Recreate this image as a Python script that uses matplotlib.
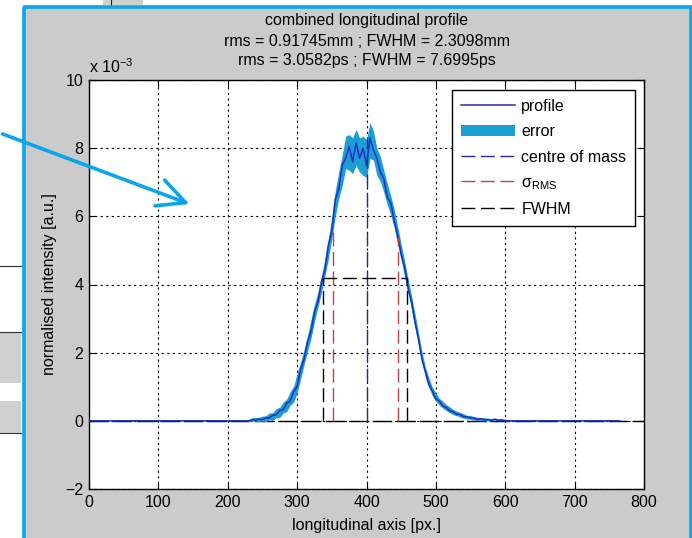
import numpy as np
import matplotlib
matplotlib.use('Agg')
import matplotlib.pyplot as plt
from matplotlib.patches import Rectangle, FancyArrowPatch
from matplotlib.lines import Line2D

plt.rcParams['font.family'] = ['Liberation Sans', 'DejaVu Sans']
plt.rcParams['mathtext.fontset'] = 'custom'
plt.rcParams['mathtext.rm'] = 'Liberation Sans'
plt.rcParams['mathtext.it'] = 'Liberation Sans:italic'

# profile values (units of 1e-3), every 5 px from 230 to 610
pos = np.arange(230, 611, 5)
profile = [0.00, 0.03, 0.02, 0.05, 0.04, 0.08, 0.09, 0.16, 0.18, 0.30,
           0.33, 0.52, 0.58, 0.86, 1.00, 1.52, 1.80, 2.32, 2.62, 3.20,
           3.48, 4.08, 4.42, 5.15, 5.55, 6.50, 6.80, 7.50, 7.70, 8.05,
           7.60, 8.15, 7.70, 8.00, 7.50, 8.30, 7.95, 7.70, 7.30, 7.10,
           6.55, 6.40, 5.85, 5.45, 4.88, 4.50, 3.88, 3.50, 2.88, 2.40,
           1.80, 1.44, 1.06, 0.88, 0.64, 0.58, 0.43, 0.40, 0.29, 0.27,
           0.19, 0.19, 0.12, 0.12, 0.08, 0.08, 0.04, 0.06, 0.03, 0.04,
           0.02, 0.05, 0.02, 0.03, 0.01, 0.00, 0.00]
err_hi = [0.03, 0.06, 0.08, 0.05, 0.10, 0.07, 0.14, 0.08, 0.18, 0.10,
          0.22, 0.12, 0.28, 0.15, 0.40, 0.20, 0.30, 0.18, 0.35, 0.22,
          0.30, 0.15, 0.35, 0.20, 0.45, 0.25, 0.50, 0.30, 0.65, 0.35,
          0.70, 0.40, 0.60, 0.35, 0.75, 0.45, 0.55, 0.30, 0.45, 0.25,
          0.40, 0.20, 0.35, 0.25, 0.30, 0.18, 0.28, 0.15, 0.25, 0.18,
          0.22, 0.12, 0.20, 0.10, 0.18, 0.08, 0.15, 0.07, 0.12, 0.06,
          0.10, 0.05, 0.09, 0.04, 0.08, 0.04, 0.07, 0.03, 0.06, 0.03,
          0.05, 0.02, 0.04, 0.02, 0.02, 0.01, 0.01]
err_lo = [0.02, 0.04, 0.03, 0.07, 0.05, 0.10, 0.06, 0.15, 0.08, 0.20,
          0.10, 0.25, 0.12, 0.32, 0.18, 0.30, 0.16, 0.28, 0.20, 0.30,
          0.14, 0.32, 0.18, 0.40, 0.22, 0.50, 0.28, 0.60, 0.30, 0.70,
          0.35, 0.65, 0.40, 0.80, 0.35, 0.60, 0.30, 0.50, 0.28, 0.40,
          0.22, 0.35, 0.20, 0.30, 0.16, 0.28, 0.14, 0.25, 0.15, 0.20,
          0.10, 0.18, 0.09, 0.15, 0.07, 0.12, 0.06, 0.10, 0.05, 0.09,
          0.04, 0.08, 0.04, 0.07, 0.03, 0.06, 0.03, 0.05, 0.03, 0.04,
          0.02, 0.03, 0.02, 0.02, 0.01, 0.01, 0.00]
x_start, x_end = 0, 765

com = 400
com_height = 8.3
sigma_lo, sigma_hi = 351, 445
sigma_heights = [5.6, 5.4]
fwhm_lo, fwhm_hi = 338, 458
half_max = 4.2

title_lines = ['combined longitudinal profile',
               'rms = 0.91745mm ; FWHM = 2.3098mm',
               'rms = 3.0582ps ; FWHM = 7.6995ps']

W, H = 692, 538
def fx(px):
    return px / W
def fy(py):
    return 1 - py / H

blue_frame = '#0aa5ec'
band_col = '#1b9fd2'
line_col = '#1a2fc8'
com_col = '#2a2a96'
red_col = '#c04444'
FS = 11.5

fig = plt.figure(figsize=(6.92, 5.38), dpi=100, facecolor='white')

# grey figure panel
fig.add_artist(Rectangle((fx(23), 0), 1 - fx(23), fy(7), transform=fig.transFigure,
                         facecolor='#cbcbcb', edgecolor='none', zorder=-10))

# window decorations outside the figure frame
fig.add_artist(Rectangle((0, fy(383)), fx(21), fy(332) - fy(383), transform=fig.transFigure,
                         facecolor='#cfcfcf', edgecolor='none', zorder=-5))
fig.add_artist(Rectangle((0, fy(433)), fx(21), fy(401) - fy(433), transform=fig.transFigure,
                         facecolor='#cfcfcf', edgecolor='none', zorder=-5))
for yy in [266, 332, 433]:
    fig.add_artist(Line2D([0, fx(21)], [fy(yy), fy(yy)], transform=fig.transFigure,
                          color='#303030', lw=0.8, zorder=-4))
fig.add_artist(Rectangle((fx(103), fy(5)), fx(40), fy(0) - fy(5), transform=fig.transFigure,
                         facecolor='#cfcfcf', edgecolor='none', zorder=-5))
fig.add_artist(Line2D([fx(111), fx(111)], [fy(0), fy(5)], transform=fig.transFigure,
                      color='#202020', lw=0.8, zorder=-4))

ax = fig.add_axes([fx(89), fy(489), fx(644) - fx(89), fy(80) - fy(489)])
ax.set_facecolor('white')

xs = np.concatenate([[x_start], pos, [x_end]])
ys = np.concatenate([[0], profile, [0]])
prof = np.array(profile)

ax.plot([0, 800], [0, 0], color='k', lw=1.0, dashes=(14, 3), zorder=2)
ax.fill_between(pos, prof - np.array(err_lo), prof + np.array(err_hi), color=band_col, lw=0,
                zorder=3, label='error')
ax.plot(xs, ys, color=line_col, lw=1.1, zorder=4, label='profile')
ax.plot([com, com], [0, com_height], color=com_col, lw=1.0, dashes=(10, 4), zorder=5,
        label='centre of mass')
ax.plot([sigma_lo, sigma_lo], [0, sigma_heights[0]], color=red_col, lw=1.0, dashes=(10, 4), zorder=5,
        label='σ$_{\\mathrm{RMS}}$')
ax.plot([sigma_hi, sigma_hi], [0, sigma_heights[1]], color=red_col, lw=1.0, dashes=(10, 4), zorder=5)
ax.plot([fwhm_lo, fwhm_lo], [0, half_max], color='k', lw=1.0, dashes=(10, 4), zorder=5, label='FWHM')
ax.plot([fwhm_hi, fwhm_hi], [0, half_max], color='k', lw=1.0, dashes=(10, 4), zorder=5)
ax.plot([fwhm_lo, fwhm_hi], [half_max, half_max], color='k', lw=1.0, dashes=(10, 4), zorder=5)

ax.set_xlim(0, 800)
ax.set_ylim(-2, 10)
ax.set_xticks(np.arange(0, 801, 100))
ax.set_yticks(np.arange(-2, 11, 2))
ax.grid(True, color='k', linestyle=(0, (2, 3)), lw=0.8, zorder=1)
ax.set_axisbelow(True)
ax.tick_params(direction='in', top=True, right=True, length=5, width=0.8,
               labelsize=FS, colors='k', pad=4)
for s in ax.spines.values():
    s.set_linewidth(1.0)
    s.set_color('k')

ax.text(0, 1.01, r'x 10$^{-3}$', transform=ax.transAxes, ha='left', va='bottom', fontsize=FS)
ax.set_xlabel('longitudinal axis [px.]', fontsize=FS, labelpad=6)
ax.set_ylabel('normalised intensity [a.u.]', fontsize=FS, labelpad=6)

for line, yy in zip(title_lines, [20, 41, 61]):
    fig.text(fx(366.5), fy(yy), line, ha='center', va='center', fontsize=FS)

h, l = ax.get_legend_handles_labels()
order = [l.index(k) for k in ['profile', 'error', 'centre of mass', 'σ$_{\\mathrm{RMS}}$', 'FWHM']]
leg = ax.legend([h[i] for i in order], [l[i] for i in order], loc='upper right',
                bbox_to_anchor=(0.984, 0.9756), fontsize=FS, frameon=True, fancybox=False,
                edgecolor='k', framealpha=1, borderaxespad=0, handlelength=3.4,
                handletextpad=0.4, labelspacing=0.65, borderpad=0.55)
leg.get_frame().set_linewidth(1.0)

# blue border of the screenshot, drawn last
for xa, ya in [([24, 24], [538, 7]), ([22.5, 692], [7, 7]), ([690.5, 690.5], [7, 538])]:
    fig.add_artist(Line2D([fx(v) for v in xa], [fy(v) for v in ya], transform=fig.transFigure,
                          color=blue_frame, lw=2.6, solid_capstyle='butt', zorder=50))

arrow = FancyArrowPatch(posA=(fx(0), fy(133)), posB=(fx(192), fy(205)), transform=fig.transFigure,
                        arrowstyle='->,head_length=1.1,head_width=0.55', mutation_scale=18,
                        color=blue_frame, lw=2.6, zorder=60)
fig.add_artist(arrow)

fig.savefig('out.png', dpi=100, facecolor='white')
